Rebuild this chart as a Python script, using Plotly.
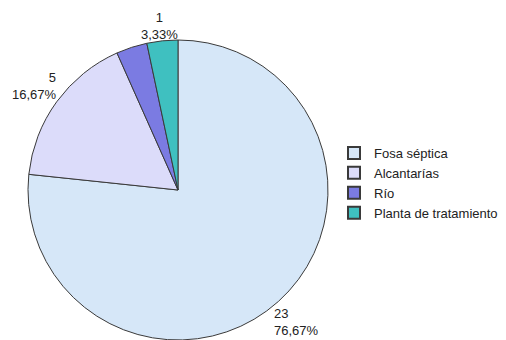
import math
import plotly.graph_objects as go

categories = ["Fosa séptica", "Alcantarías", "Río", "Planta de tratamiento"]
values = [23, 5, 1, 1]
show_label = [True, True, False, True]
colors = ["#D6E7F8", "#DCDCFA", "#7B7BE2", "#3FC0C0"]

total = sum(values)
texts = [
    (f"{v}<br>{v / total * 100:.2f}%".replace(".", ",") if s else "")
    for v, s in zip(values, show_label)
]

# page body has an 8px default margin, so the figure is 8px smaller
W, H = 498, 332
mt, mb = 32, 0
plot_h = H - mt - mb
cx, cy, r = 170, 182, 150  # figure pixel coords
dom_x = [(cx - r) / W, (cx + r) / W]
font_size = 13
half_block = font_size * 1.3  # half height of a two-line label

fig = go.Figure(
    go.Pie(
        labels=categories,
        values=values,
        textinfo="none",
        sort=False,
        direction="clockwise",
        rotation=0,
        marker=dict(colors=colors, line=dict(color="#3a3a3a", width=1)),
        domain=dict(x=dom_x, y=[0, 1]),
        hoverinfo="label+value+percent",
    )
)

# outside labels placed along each slice's mid-angle (derived from the values)
label_r = r * 1.18
cum = 0
for v, t in zip(values, texts):
    mid = (cum + v / 2) / total * 2 * math.pi  # clockwise from 12 o'clock
    cum += v
    if not t:
        continue
    dx, dy = math.sin(mid), -math.cos(mid)
    px, py = cx + label_r * dx, cy + label_r * dy
    py = min(max(py, half_block + 1), H - half_block - 1)
    align = "center" if abs(dx) < 0.3 else ("left" if dx > 0 else "right")
    fig.add_annotation(
        x=px / W,
        y=(H - mb - py) / plot_h,
        xref="paper",
        yref="paper",
        text=t,
        showarrow=False,
        xanchor="center",
        yanchor="middle",
        align=align,
        font=dict(family="Liberation Sans, Arial", size=font_size, color="#222222"),
    )

fig.update_layout(
    width=W,
    height=H,
    margin=dict(l=0, r=0, t=mt, b=mb, autoexpand=False),
    paper_bgcolor="white",
    plot_bgcolor="white",
    font=dict(family="Liberation Sans, Arial", size=13, color="#222222"),
    showlegend=True,
    legend=dict(
        x=326 / W,
        xanchor="left",
        y=(H - 130) / plot_h,
        yanchor="top",
        font=dict(size=13, color="#222222"),
        itemsizing="constant",
        tracegroupgap=0,
        bgcolor="rgba(0,0,0,0)",
    ),
)

fig.write_html("out.html")
